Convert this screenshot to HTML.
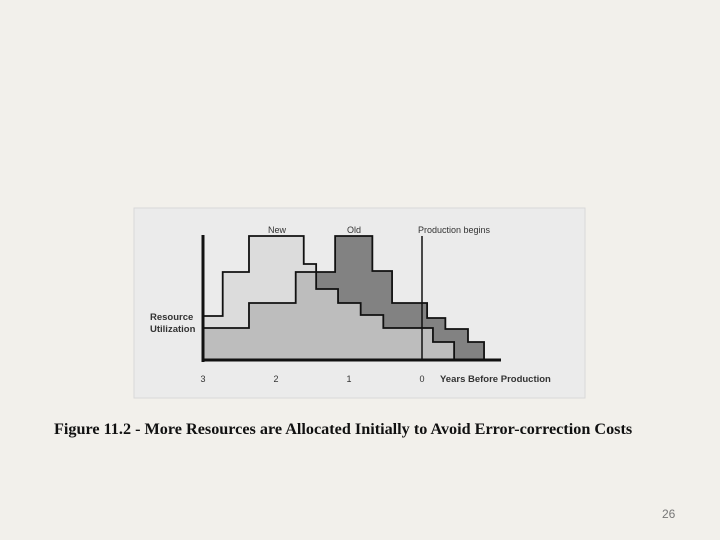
<!DOCTYPE html>
<html><head><meta charset="utf-8"><style>
body{margin:0;width:720px;height:540px;background:#f2f0eb;position:relative;overflow:hidden;font-family:"Liberation Sans",sans-serif}
#cap{position:absolute;left:54px;top:420px;font-family:"Liberation Serif",serif;font-weight:bold;font-size:16.2px;color:#111;white-space:nowrap}
#pg{position:absolute;left:662px;top:507px;font-size:12px;color:#777}
</style></head><body>
<svg id="chart" width="720" height="540" style="position:absolute;left:0;top:0">
<rect x="134" y="208" width="451" height="190" fill="#ebebeb" stroke="#d8d8d8"/>
<g id="plot"></g>
</svg>
<div id="cap">Figure 11.2 - More Resources are Allocated Initially to Avoid Error-correction Costs</div>
<div id="pg">26</div>
<script>
const newBounds=[3,2.73,2.37,1.62,1.45,1.15,0.84,0.53,-0.15,-0.44];
const newValues=[44,88,124,96,71,57,45,32,18];
const oldBounds=[3,2.37,1.73,1.19,0.68,0.41,-0.07,-0.32,-0.63,-0.85];
const oldValues=[32,57,88,124,89,57,42,31,18];
const xTicks=[3,2,1,0];
const ns="http://www.w3.org/2000/svg";
const x=t=>422-73*t, y=v=>360-v;
const g=document.getElementById('plot');
function mk(tag,attrs){const e=document.createElementNS(ns,tag);for(const k in attrs)e.setAttribute(k,attrs[k]);g.appendChild(e);return e;}
function pts(b,v){let p=[[x(b[0]),y(0)]];for(let i=0;i<v.length;i++){p.push([x(b[i]),y(v[i])]);p.push([x(b[i+1]),y(v[i])]);}p.push([x(b[b.length-1]),y(0)]);return p.map(a=>a.join(',')).join(' ');}
const pn=pts(newBounds,newValues), po=pts(oldBounds,oldValues);
const cp=mk('clipPath',{id:'cn'});const cpp=document.createElementNS(ns,'polygon');cpp.setAttribute('points',pn);cp.appendChild(cpp);
let e;
e=mk('polygon',{points:pn,fill:'#dcdcdc'});


e=mk('polygon',{points:po,fill:'#828282'});


e=mk('polygon',{points:po,fill:'#bdbdbd','clip-path':'url(#cn)'});


e=mk('polyline',{points:pn,fill:'none',stroke:'#111','stroke-width':1.8});


e=mk('polyline',{points:po,fill:'none',stroke:'#111','stroke-width':1.8});


e=mk('line',{x1:x(0),y1:236,x2:x(0),y2:360,stroke:'#111','stroke-width':1.5});


e=mk('line',{x1:203,y1:235,x2:203,y2:362,stroke:'#111','stroke-width':3});


e=mk('line',{x1:202,y1:360,x2:501,y2:360,stroke:'#111','stroke-width':3});


xTicks.forEach(t=>{const l=mk('text',{x:x(t),y:382,'font-size':9,'text-anchor':'middle',fill:'#333'});l.textContent=t;

});
function txt(s,a,n){const l=mk('text',a);l.textContent=s;

}
txt('Years Before Production',{x:440,y:382,'font-size':9.5,'font-weight':'bold',fill:'#333'},'x-axis-title');
txt('Resource',{x:150,y:320,'font-size':9.5,'font-weight':'bold',fill:'#333'},'y-axis-title-1');
txt('Utilization',{x:150,y:332,'font-size':9.5,'font-weight':'bold',fill:'#333'},'y-axis-title-2');
txt('New',{x:277,y:233,'font-size':9,'text-anchor':'middle',fill:'#333'},'new-label');
txt('Old',{x:354,y:233,'font-size':9,'text-anchor':'middle',fill:'#333'},'old-label');
txt('Production begins',{x:418,y:233,'font-size':9,fill:'#333'},'production-label');
</script>
</body></html>
